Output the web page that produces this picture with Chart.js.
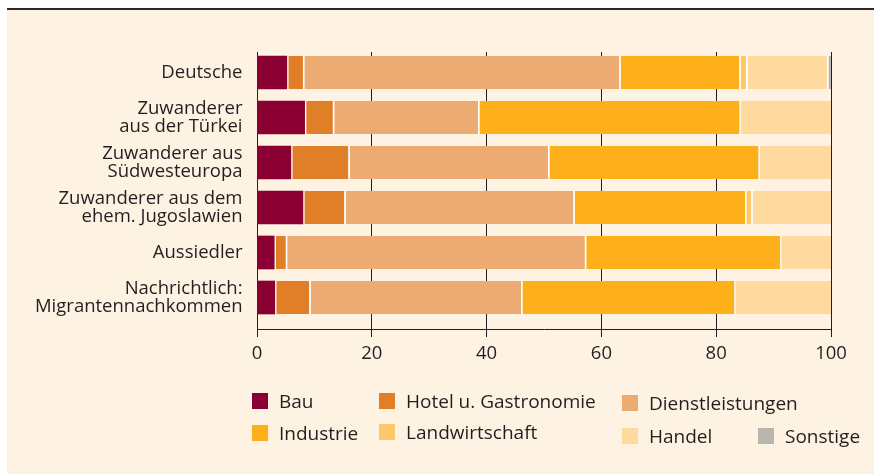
<!DOCTYPE html>
<html>
<head>
<meta charset="utf-8">
<script src="https://cdn.jsdelivr.net/npm/chart.js@4"></script>
<style>
    body { margin: 0; background: #fff; width: 874px; height: 474px; overflow: hidden; font-family: "Open Sans", sans-serif; }
    #topline { position: absolute; left: 7px; top: 8px; width: 867px; height: 2px; background: #2b2b2b; }
    #panel { position: absolute; left: 7px; top: 10px; width: 867px; height: 464px; background: #fef2e2; }
    .lg { position: absolute; display: flex; align-items: center; font-size: 19px; line-height: 19px; color: #231f20; white-space: nowrap; }
    .lg i { display: inline-block; width: 16px; height: 16px; margin-right: 11px; }
</style>
</head>
<body>
<div id="topline"></div>
<div id="panel"><canvas id="myChart"></canvas></div>
<div id="legend"></div>
<script>
// categories (rows, top to bottom)
var categories = [
    "Deutsche",
    ["Zuwanderer", "aus der Türkei"],
    ["Zuwanderer aus", "Südwesteuropa"],
    ["Zuwanderer aus dem", "ehem. Jugoslawien"],
    "Aussiedler",
    ["Nachrichtlich:", "Migrantennachkommen"],
];

// shares in percent, one array per sector
var bau = [5.2, 8.3, 5.9, 8.0, 3.0, 3.1];
var hotel = [2.8, 4.9, 10.0, 7.2, 2.0, 6.0];
var dienst = [55.1, 25.3, 34.8, 39.9, 52.1, 36.9];
var industrie = [20.9, 45.5, 36.6, 29.9, 34.0, 37.1];
var landwirtschaft = [1.2, 0, 0, 1.1, 0, 0];
var handel = [14.1, 16.0, 12.7, 13.9, 8.9, 16.9];
var sonstige = [0.7, 0, 0, 0, 0, 0];

var xTicks = [0, 20, 40, 60, 80, 100];

var series = [
    { label: "Bau", data: bau, color: "#8a0032" },
    { label: "Hotel u. Gastronomie", data: hotel, color: "#e07f28" },
    { label: "Dienstleistungen", data: dienst, color: "#ecab73" },
    { label: "Industrie", data: industrie, color: "#fdb01a" },
    { label: "Landwirtschaft", data: landwirtschaft, color: "#fec76a" },
    { label: "Handel", data: handel, color: "#feda9f" },
    { label: "Sonstige", data: sonstige, color: "#b9b5af" },
];

// legend box positions (page px), same order as series
var legendPos = [[252, 393], [379, 393], [622, 395], [252, 425], [379, 424], [622, 428], [758, 428]];

var ink = "#231f20";
var fontFamily = "'Open Sans', sans-serif";

var ctx = document.getElementById("myChart").getContext("2d");
var myChart = new Chart(ctx, {
    type: "bar",
    data: {
        datasets: series.map(function (s, k) {
            return {
                label: s.label,
                data: s.data.map(function (v, i) { return { x: v, y: i }; }),
                backgroundColor: s.color,
                borderColor: "#ffffff",
                borderWidth: { left: k === 0 ? 0 : 2, right: 0, top: 0, bottom: 0 },
                borderSkipped: false,
                barThickness: 33,
            };
        }),
    },
    options: {
        indexAxis: "y",
        responsive: true,
        maintainAspectRatio: false,
        animation: false,
        layout: { padding: { top: 42, right: 43, bottom: 0, left: 0 } },
        plugins: {
            legend: { display: false },
            tooltip: { enabled: false },
        },
        scales: {
            x: {
                type: "linear",
                stacked: true,
                min: 0,
                max: 100,
                afterBuildTicks: function (axis) {
                    axis.ticks = xTicks.map(function (v) { return { value: v }; });
                },
                ticks: { color: ink, font: { family: fontFamily, size: 18.5 }, padding: 6 },
                grid: { color: ink, lineWidth: 1, tickLength: 8 },
                border: { color: ink, width: 1 },
                afterFit: function (scale) { scale.height = 145; },
            },
            y: {
                type: "linear",
                stacked: true,
                reverse: true,
                offset: false,
                min: -0.4556,
                max: 5.7,
                afterBuildTicks: function (axis) {
                    axis.ticks = categories.map(function (c, i) { return { value: i }; });
                },
                ticks: {
                    autoSkip: false,
                    color: ink,
                    font: { family: fontFamily, size: 18.5, lineHeight: 0.95 },
                    padding: 14.5,
                    callback: function (v) { return categories[v]; },
                },
                grid: { display: false, drawTicks: false },
                border: { display: false },
                afterFit: function (scale) { scale.width = 250; },
            },
        },
    },
});

// legend as html
var legend = document.getElementById("legend");
series.forEach(function (s, k) {
    var item = document.createElement("div");
    item.className = "lg";
    item.style.left = legendPos[k][0] + "px";
    item.style.top = (legendPos[k][1] - 1.5) + "px";
    var box = document.createElement("i");
    box.style.background = s.color;
    item.appendChild(box);
    item.appendChild(document.createTextNode(s.label));
    legend.appendChild(item);
});
</script>
</body>
</html>
